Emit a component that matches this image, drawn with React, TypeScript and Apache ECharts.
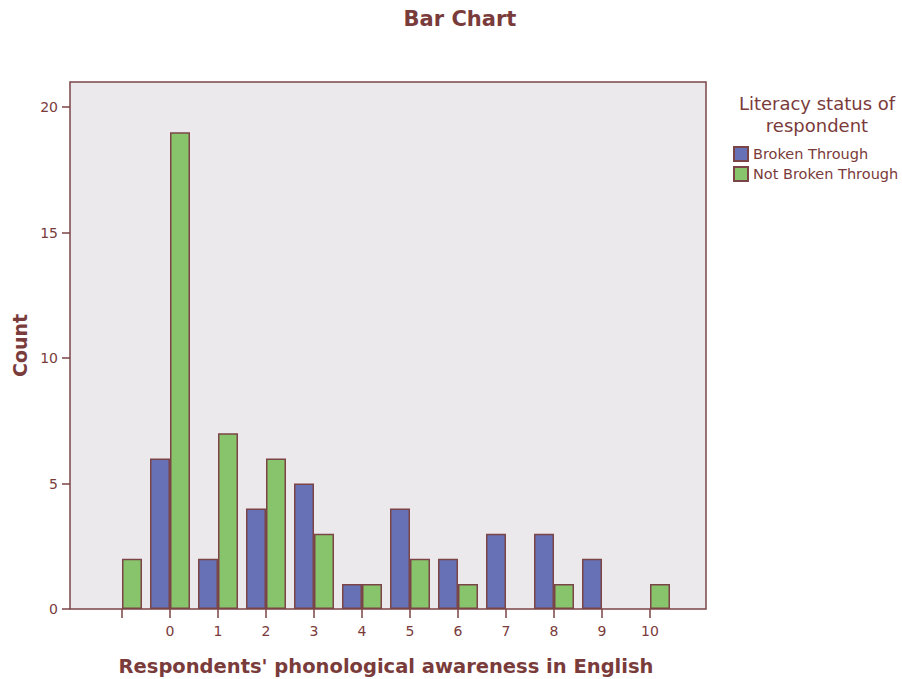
import React, { useEffect, useRef } from "react";
import * as echarts from "echarts";

const categories = ["", "0", "1", "2", "3", "4", "5", "6", "7", "8", "9", "10"];
const brokenThrough = [null, 6, 2, 4, 5, 1, 4, 2, 3, 3, 2, null];
const notBrokenThrough = [2, 19, 7, 6, 3, 1, 2, 1, null, 1, null, 1];
const yTicks = [0, 5, 10, 15, 20];

const TEXT = "#7a3b3b";
const LINE = "#7b4446";
const FONT = "'DejaVu Sans', Verdana, sans-serif";

export default function App() {
  const ref = useRef<HTMLDivElement>(null);
  useEffect(() => {
    const chart = echarts.init(ref.current!, undefined, { renderer: "svg" });
    chart.setOption({
      animation: false,
      textStyle: { fontFamily: FONT },
      title: [
        {
          text: "Bar Chart",
          left: 455,
          top: 3,
          textAlign: "center",
          textStyle: { fontSize: 21, fontWeight: "bold", color: TEXT, fontFamily: FONT },
        },
        {
          text: "Literacy status of\nrespondent",
          left: 812,
          top: 87,
          textAlign: "center",
          textStyle: { fontSize: 18, fontWeight: "normal", color: TEXT, lineHeight: 22, fontFamily: FONT },
        },
      ],
      legend: {
        orient: "vertical",
        left: 733,
        top: 146,
        padding: 0,
        itemWidth: 14,
        itemHeight: 14,
        itemGap: 4,
        icon: "rect",
        textStyle: { fontSize: 14.5, color: TEXT, fontFamily: FONT },
        data: ["Broken Through", "Not Broken Through"],
      },
      graphic: [
        {
          type: "rect",
          z: -10,
          silent: true,
          shape: { x: 70, y: 82, width: 636, height: 527 },
          style: { fill: "#ece9ec", stroke: LINE, lineWidth: 1.5 },
        },
      ],
      grid: { left: 98, right: 228, top: 82, bottom: 70, outerBoundsMode: "none", containLabel: false },
      xAxis: {
        type: "category",
        data: categories,
        name: "Respondents' phonological awareness in English",
        nameLocation: "middle",
        nameGap: 47,
        nameTextStyle: { fontSize: 19.5, fontWeight: "bold", color: TEXT, fontFamily: FONT },
        axisLine: { show: false },
        axisTick: { show: true, alignWithLabel: true, length: 9, lineStyle: { color: LINE, width: 1.5 } },
        axisLabel: { fontSize: 14, color: TEXT, margin: 15, fontFamily: FONT },
        splitLine: { show: false },
      },
      yAxis: {
        type: "value",
        min: 0,
        max: 21,
        interval: 5,
        offset: 28,
        name: "Count",
        nameLocation: "middle",
        nameGap: 40,
        nameTextStyle: { fontSize: 19, fontWeight: "bold", color: TEXT, fontFamily: FONT },
        axisLine: { show: false },
        axisTick: { show: true, length: 8, customValues: yTicks, lineStyle: { color: LINE, width: 1.5 } },
        axisLabel: { fontSize: 14, color: TEXT, margin: 12, customValues: yTicks, fontFamily: FONT },
        splitLine: { show: false },
      },
      series: [
        {
          name: "Broken Through",
          type: "bar",
          data: brokenThrough,
          barWidth: 20,
          barGap: "0%",
          itemStyle: { color: "#6771b6", borderColor: LINE, borderWidth: 1.5 },
        },
        {
          name: "Not Broken Through",
          type: "bar",
          data: notBrokenThrough,
          barWidth: 20,
          barGap: "0%",
          itemStyle: { color: "#88c46c", borderColor: LINE, borderWidth: 1.5 },
        },
      ],
    });
    return () => chart.dispose();
  }, []);
  return (
    <div
      ref={ref}
      style={{ position: "fixed", left: 0, top: 0, width: 902, height: 679, background: "#ffffff" }}
    />
  );
}
